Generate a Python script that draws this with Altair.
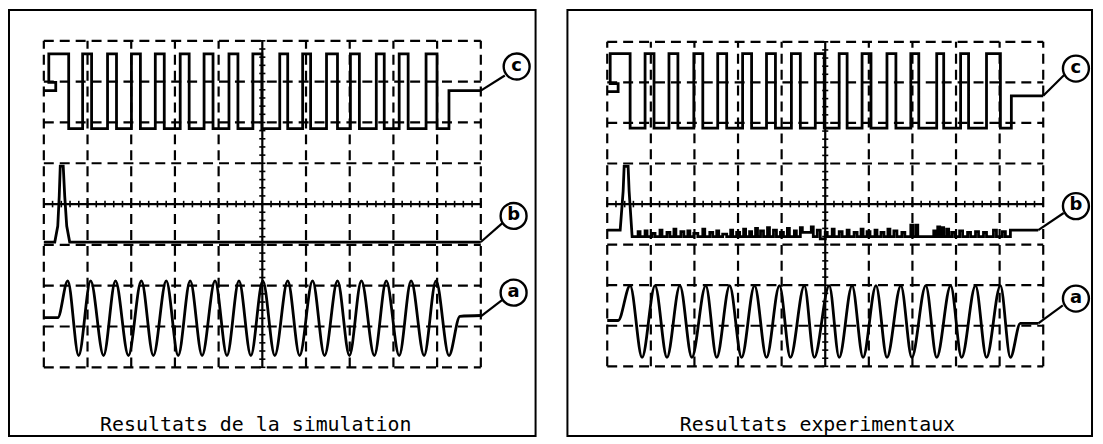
import altair as alt
import pandas as pd

# ---------------- data (all values in screen divisions of the graticule) ----------------
# graticule: 10 x 8 divisions
grid_cols = [0, 1, 2, 3, 4, 6, 7, 8, 9, 10]
grid_rows = [-4, -3, -2, -1, 1, 2, 3, 4]

# trace c (square wave) -- left panel
cL_rise = [0.114, 0.888, 1.458, 2.005, 2.551, 3.121, 3.667, 4.237, 4.784, 5.399, 5.923, 6.469, 7.016, 7.608, 8.132, 8.747]
cL_fall = [0.569, 1.093, 1.663, 2.210, 2.756, 3.326, 3.872, 4.442, 4.989, 5.581, 6.105, 6.720, 7.221, 7.790, 8.337, 8.998]
cL_high, cL_low = 3.68, 1.85
cL_head_x = [0.0, 0.273, 0.273, 0.114]
cL_head_y = [2.78, 2.78, 2.98, 2.98]
cL_tail_x = [9.271, 9.271, 10.0]
cL_tail_y = [1.85, 2.78, 2.78]

# trace c -- right panel
cR_rise = [0.068, 0.868, 1.416, 1.986, 2.534, 3.105, 3.653, 4.224, 4.772, 5.320, 5.845, 6.416, 6.963, 7.557, 8.105, 8.699]
cR_fall = [0.525, 1.073, 1.621, 2.192, 2.740, 3.311, 3.858, 4.429, 4.977, 5.502, 6.050, 6.621, 7.146, 7.717, 8.288, 9.018]
cR_high, cR_low = 3.71, 1.87
cR_head_x = [0.0, 0.25, 0.25, 0.068]
cR_head_y = [2.77, 2.77, 2.97, 2.97]
cR_tail_x = [9.269, 9.269, 10.0]
cR_tail_y = [1.87, 2.67, 2.67]

# trace a (sinusoid) -- peaks / troughs
aL_peak_x = [0.547, 1.071, 1.640, 2.232, 2.802, 3.349, 3.918, 4.465, 5.011, 5.581, 6.150, 6.720, 7.267, 7.836, 8.405, 8.975]
aL_trough_x = [0.797, 1.367, 1.936, 2.506, 3.075, 3.622, 4.191, 4.738, 5.285, 5.854, 6.424, 6.993, 7.563, 8.132, 8.702, 9.271]
aL_peak_y = -1.88
aL_trough_y = -3.71
aL_head_x, aL_head_y = [0.0, 0.32], [-2.78, -2.78]
aL_tail_x, aL_tail_y = [9.522, 10.0], [-2.75, -2.73]

aR_peak_x = [0.525, 1.096, 1.667, 2.260, 2.808, 3.379, 3.950, 4.521, 5.091, 5.616, 6.164, 6.735, 7.306, 7.877, 8.447, 9.018]
aR_trough_x = [0.799, 1.370, 1.941, 2.511, 3.082, 3.653, 4.201, 4.749, 5.320, 5.868, 6.416, 6.986, 7.557, 8.128, 8.699, 9.247]
aR_peak_y = -2.01
aR_trough_y = -3.78
aR_head_x, aR_head_y = [0.0, 0.251], [-2.87, -2.87]
aR_tail_x, aR_tail_y = [9.475, 9.886], [-2.94, -2.94]

# trace b (pulse) -- left: clean simulation
bL_x = [0.0, 0.251, 0.319, 0.353, 0.376, 0.444, 0.478, 0.524, 0.592, 10.0]
bL_y = [-0.93, -0.93, -0.54, 0.20, 0.93, 0.93, 0.20, -0.54, -0.93, -0.93]

# trace b -- right: measured, pulse then noisy baseline (step points)
bR_x = [0.0, 0.297, 0.365, 0.388, 0.479, 0.502, 0.571]
bR_y = [-0.64, -0.64, 0.32, 0.93, 0.93, 0.32, -0.80]
bR_steps = [
    (0.571, -0.80), (0.708, -0.68), (0.753, -0.80), (0.868, -0.66), (0.913, -0.80),
    (1.027, -0.72), (1.096, -0.80), (1.210, -0.64), (1.256, -0.80), (1.370, -0.70),
    (1.438, -0.80), (1.530, -0.62), (1.575, -0.80), (1.689, -0.68), (1.758, -0.80),
    (1.849, -0.66), (1.895, -0.80), (1.986, -0.72), (2.078, -0.80), (2.192, -0.62),
    (2.237, -0.80), (2.352, -0.70), (2.420, -0.80), (2.511, -0.66), (2.557, -0.80),
    (2.648, -0.74), (2.740, -0.80), (2.831, -0.64), (2.877, -0.80), (2.968, -0.70),
    (3.037, -0.80), (3.128, -0.62), (3.174, -0.80), (3.265, -0.68), (3.311, -0.80),
    (3.402, -0.60), (3.447, -0.80), (3.516, -0.66), (3.584, -0.80), (3.676, -0.58),
    (3.721, -0.80), (3.813, -0.64), (3.881, -0.80), (3.973, -0.70), (4.041, -0.80),
    (4.132, -0.60), (4.178, -0.80), (4.292, -0.66), (4.338, -0.80), (4.429, -0.58),
    (4.475, -0.70), (4.680, -0.56), (4.726, -0.80), (4.817, -0.64), (4.886, -0.86),
    (5.000, -0.70), (5.046, -0.80), (5.160, -0.62), (5.205, -0.80), (5.320, -0.68),
    (5.388, -0.80), (5.502, -0.64), (5.548, -0.80), (5.662, -0.70), (5.731, -0.80),
    (5.822, -0.62), (5.868, -0.80), (5.959, -0.68), (6.027, -0.80), (6.142, -0.64),
    (6.187, -0.80), (6.279, -0.70), (6.347, -0.80), (6.438, -0.62), (6.484, -0.80),
    (6.575, -0.66), (6.644, -0.80), (6.758, -0.70), (6.826, -0.80), (6.963, -0.52),
    (7.009, -0.80), (7.078, -0.52), (7.123, -0.80), (7.489, -0.66), (7.534, -0.80),
    (7.580, -0.56), (7.626, -0.80), (7.671, -0.58), (7.717, -0.80), (7.785, -0.62),
    (7.831, -0.80), (7.900, -0.70), (7.968, -0.80), (8.082, -0.66), (8.151, -0.80),
    (8.265, -0.70), (8.333, -0.80), (8.447, -0.68), (8.516, -0.80), (8.630, -0.70),
    (8.699, -0.80), (8.858, -0.64), (8.927, -0.80), (9.064, -0.68), (9.132, -0.80),
    (9.247, -0.64), (9.886, -0.64),
]

# circled labels and their leader lines
labels = ["c", "b", "a"]
labL_x, labL_y = [10.82, 10.75, 10.75], [3.37, -0.29, -2.17]
leadL_x, leadL_y = [10.0, 10.0, 10.0], [2.78, -0.93, -2.75]
leadL_x2, leadL_y2 = [10.55, 10.50, 10.50], [3.15, -0.46, -2.34]
labR_x, labR_y = [10.75, 10.75, 10.75], [3.34, -0.05, -2.33]
leadR_x, leadR_y = [10.0, 9.886, 9.886], [2.67, -0.64, -2.94]
leadR_x2, leadR_y2 = [10.48, 10.47, 10.45], [3.18, -0.22, -2.50]

titles = ["Resultats de la simulation", "Resultats experimentaux"]
title_x = [4.85, 4.82]
title_y = [-5.42, -5.45]


# ---------------- helpers ----------------
def square_wave(head_x, head_y, rise, fall, hi, lo, tail_x, tail_y):
    pts = list(zip(head_x, head_y))
    for k, (r, f) in enumerate(zip(rise, fall)):
        if k > 0:
            pts.append((r, lo))
        pts += [(r, hi), (f, hi), (f, lo)]
    pts += list(zip(tail_x, tail_y))
    return pts


def sine_pts(head_x, head_y, px, tx, py, ty, tail_x, tail_y):
    pts = list(zip(head_x, head_y))
    for p, t in zip(px, tx):
        pts += [(p, py), (t, ty)]
    pts += list(zip(tail_x, tail_y))
    return pts


def steps(points):
    out = []
    for i, (x, y) in enumerate(points):
        if i > 0:
            out.append((x, points[i - 1][1]))
        out.append((x, y))
    return out


def df_line(pts, name):
    return pd.DataFrame({"x": [p[0] for p in pts], "y": [p[1] for p in pts],
                         "i": list(range(len(pts))), "trace": name})


def panel(W, H, xdom, ydom, c_pts, a_pts, b_pts, lab_x, lab_y, lx, ly, lx2, ly2, title, tx, ty):
    xs = alt.Scale(domain=xdom, nice=False, zero=False)
    ys = alt.Scale(domain=ydom, nice=False, zero=False)

    def X(f):
        return alt.X(f, type="quantitative", scale=xs, axis=None)

    def Y(f):
        return alt.Y(f, type="quantitative", scale=ys, axis=None)

    vdf = pd.DataFrame({"x": grid_cols, "y": -4, "y2": 4})
    hdf = pd.DataFrame({"y": grid_rows, "x": 0, "x2": 10})
    vgrid = alt.Chart(vdf).mark_rule(color="black", strokeWidth=2.2, strokeDash=[10, 6]).encode(
        x=X("x"), y=Y("y"), y2="y2")
    hgrid = alt.Chart(hdf).mark_rule(color="black", strokeWidth=2.2, strokeDash=[10, 6]).encode(
        y=Y("y"), x=X("x"), x2="x2")
    cdf = pd.DataFrame({"x": [5, 0], "x2": [5, 10], "y": [-4, 0], "y2": [4, 0]})
    center = alt.Chart(cdf).mark_rule(color="black", strokeWidth=2.2).encode(
        x=X("x"), x2="x2", y=Y("y"), y2="y2")
    tx_ = [k * 0.2 for k in range(51)]
    ty_ = [k * 0.2 - 4 for k in range(41)]
    tdf = pd.DataFrame({
        "x": tx_ + [4.93] * len(ty_),
        "x2": tx_ + [5.07] * len(ty_),
        "y": [-0.08] * len(tx_) + ty_,
        "y2": [0.08] * len(tx_) + ty_,
    })
    ticks = alt.Chart(tdf).mark_rule(color="black", strokeWidth=1.6).encode(
        x=X("x"), x2="x2", y=Y("y"), y2="y2")

    lines_df = pd.concat([df_line(c_pts, "c"), df_line(b_pts, "b")])
    traces = alt.Chart(lines_df).mark_line(color="black", strokeWidth=2.8, strokeJoin="miter").encode(
        x=X("x"), y=Y("y"), detail="trace:N", order="i:Q")
    sine = alt.Chart(df_line(a_pts, "a")).mark_line(
        color="black", strokeWidth=2.8, interpolate="monotone").encode(
        x=X("x"), y=Y("y"), order="i:Q")

    ldf = pd.DataFrame({"x": lx, "y": ly, "x2": lx2, "y2": ly2})
    leaders = alt.Chart(ldf).mark_rule(color="black", strokeWidth=2.2).encode(
        x=X("x"), x2="x2", y=Y("y"), y2="y2")
    lab_df = pd.DataFrame({"x": lab_x, "y": lab_y, "t": labels})
    circles = alt.Chart(lab_df).mark_point(
        shape="circle", size=680, filled=False, fill="white", fillOpacity=1,
        stroke="black", strokeWidth=2.4, opacity=1).encode(x=X("x"), y=Y("y"))
    letters = alt.Chart(lab_df).mark_text(
        font="DejaVu Sans", fontSize=18, fontWeight="bold", color="black", dy=-1).encode(
        x=X("x"), y=Y("y"), text="t:N")
    tdf2 = pd.DataFrame({"x": [tx], "y": [ty], "t": [title]})
    ttl = alt.Chart(tdf2).mark_text(
        font="DejaVu Sans Mono", fontSize=20, color="black").encode(
        x=X("x"), y=Y("y"), text="t:N")

    return alt.layer(vgrid, hgrid, center, ticks, traces, sine, leaders, circles, letters, ttl).properties(
        width=W, height=H)


H = 428
left = panel(
    529, H, [-0.797, 11.253], [-5.683, 4.756],
    square_wave(cL_head_x, cL_head_y, cL_rise, cL_fall, cL_high, cL_low, cL_tail_x, cL_tail_y),
    sine_pts(aL_head_x, aL_head_y, aL_peak_x, aL_trough_x, aL_peak_y, aL_trough_y, aL_tail_x, aL_tail_y),
    list(zip(bL_x, bL_y)),
    labL_x, labL_y, leadL_x, leadL_y, leadL_x2, leadL_y2,
    titles[0], title_x[0], title_y[0])

right = panel(
    527, H, [-0.913, 11.119], [-5.718, 4.785],
    square_wave(cR_head_x, cR_head_y, cR_rise, cR_fall, cR_high, cR_low, cR_tail_x, cR_tail_y),
    sine_pts(aR_head_x, aR_head_y, aR_peak_x, aR_trough_x, aR_peak_y, aR_trough_y, aR_tail_x, aR_tail_y),
    list(zip(bR_x, bR_y)) + steps(bR_steps)[1:],
    labR_x, labR_y, leadR_x, leadR_y, leadR_x2, leadR_y2,
    titles[1], title_x[1], title_y[1])

chart = alt.hconcat(left, right, spacing=30).properties(
    padding=0, background="white"
).configure_view(stroke="black", strokeWidth=2)

chart.save("out.html", embed_options={"renderer": "svg", "actions": False})
